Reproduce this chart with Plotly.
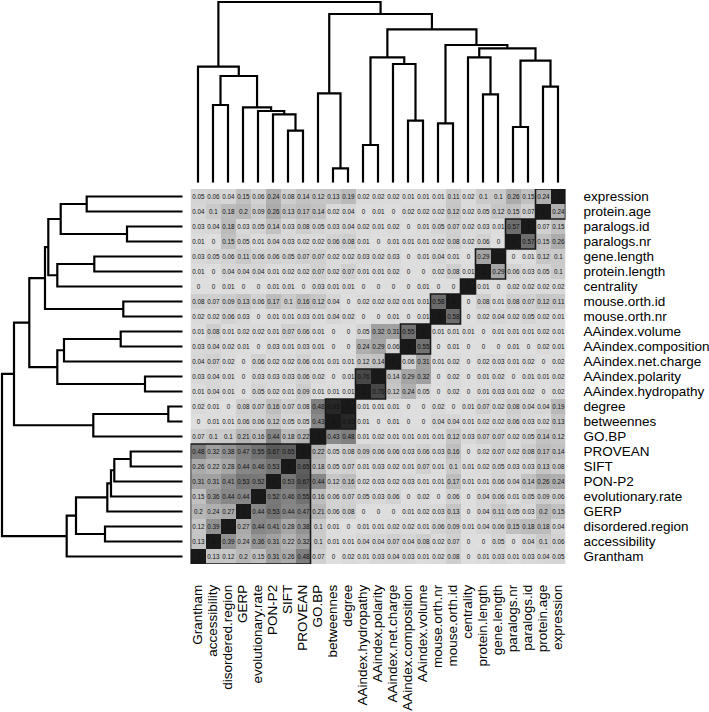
import plotly.graph_objects as go

# ---------------- data ----------------
labels = ["Grantham", "accessibility", "disordered.region", "GERP", "evolutionary.rate",
          "PON-P2", "SIFT", "PROVEAN", "GO.BP", "betweennes", "degree",
          "AAindex.hydropathy", "AAindex.polarity", "AAindex.net.charge",
          "AAindex.composition", "AAindex.volume", "mouse.orth.nr", "mouse.orth.id",
          "centrality", "protein.length", "gene.length", "paralogs.nr", "paralogs.id",
          "protein.age", "expression"]

# correlation of each variable with the variables listed before it (lower triangle)
corr_accessibility = [0.13]
corr_disordered_region = [0.12, 0.39]
corr_GERP = [0.2, 0.24, 0.27]
corr_evolutionary_rate = [0.15, 0.36, 0.44, 0.44]
corr_PON_P2 = [0.31, 0.31, 0.41, 0.53, 0.52]
corr_SIFT = [0.26, 0.22, 0.28, 0.44, 0.46, 0.53]
corr_PROVEAN = [0.48, 0.32, 0.38, 0.47, 0.55, 0.67, 0.65]
corr_GO_BP = [0.07, 0.1, 0.1, 0.21, 0.16, 0.44, 0.18, 0.22]
corr_betweennes = [0, 0.01, 0.01, 0.06, 0.06, 0.12, 0.05, 0.05, 0.43]
corr_degree = [0.02, 0.01, 0, 0.08, 0.07, 0.16, 0.07, 0.08, 0.48, 0.93]
corr_hydropathy = [0.01, 0.04, 0.01, 0, 0.05, 0.02, 0.01, 0.09, 0.01, 0.01, 0.01]
corr_polarity = [0.03, 0.04, 0.01, 0, 0.03, 0.03, 0.03, 0.06, 0.02, 0, 0.01, 0.76]
corr_net_charge = [0.04, 0.07, 0.02, 0, 0.06, 0.02, 0.02, 0.06, 0.01, 0.01, 0.01, 0.12, 0.14]
corr_composition = [0.03, 0.04, 0.02, 0.01, 0, 0.03, 0.01, 0.03, 0.01, 0, 0, 0.24, 0.29, 0.06]
corr_volume = [0.01, 0.08, 0.01, 0.02, 0.02, 0.01, 0.07, 0.06, 0.01, 0, 0, 0.05, 0.32, 0.31, 0.55]
corr_mouse_orth_nr = [0.02, 0.02, 0.06, 0.03, 0, 0.01, 0.01, 0.03, 0.01, 0.04, 0.02, 0, 0, 0.01, 0, 0.01]
corr_mouse_orth_id = [0.08, 0.07, 0.09, 0.13, 0.06, 0.17, 0.1, 0.16, 0.12, 0.04, 0, 0.02, 0.02, 0.02,
                      0.01, 0.01, 0.58]
corr_centrality = [0, 0, 0.01, 0, 0, 0.01, 0.01, 0, 0.03, 0.01, 0.01, 0, 0, 0, 0, 0.01, 0, 0]
corr_protein_length = [0.01, 0, 0.04, 0.04, 0.04, 0.01, 0.02, 0.02, 0.07, 0.02, 0.07, 0.01, 0.01, 0.02,
                       0, 0, 0.02, 0.08, 0.01]
corr_gene_length = [0.03, 0.05, 0.06, 0.11, 0.06, 0.06, 0.05, 0.07, 0.07, 0.02, 0.02, 0.03, 0.02, 0.03,
                    0, 0.01, 0.04, 0.01, 0, 0.29]
corr_paralogs_nr = [0.01, 0, 0.15, 0.05, 0.01, 0.04, 0.03, 0.02, 0.02, 0.06, 0.08, 0.01, 0, 0.01, 0.01,
                    0.01, 0.02, 0.08, 0.02, 0.06, 0]
corr_paralogs_id = [0.03, 0.04, 0.18, 0.03, 0.05, 0.14, 0.03, 0.08, 0.05, 0.03, 0.04, 0.02, 0.01, 0.02,
                    0, 0.01, 0.05, 0.07, 0.02, 0.03, 0.01, 0.57]
corr_protein_age = [0.04, 0.1, 0.18, 0.2, 0.09, 0.26, 0.13, 0.17, 0.14, 0.02, 0.04, 0, 0.01, 0, 0.02,
                    0.02, 0.02, 0.12, 0.02, 0.05, 0.12, 0.15, 0.07]
corr_expression = [0.05, 0.06, 0.04, 0.15, 0.06, 0.24, 0.08, 0.14, 0.12, 0.13, 0.19, 0.02, 0.02, 0.02,
                   0.01, 0.01, 0.01, 0.11, 0.02, 0.1, 0.1, 0.26, 0.15, 0.24]

# dendrogram merges (hclust style: negative = leaf number, positive = earlier merge step)
merge_a = [-7, -6, -5, -4, -2, 5, -1, -10, -9, -12, -15, -14, 10, -17, -20, -19, -22, -24, 17, 16, 14, 13, 9, 7]
merge_b = [-8, 1, 2, 3, -3, 4, 6, -11, 8, -13, -16, 11, 12, -18, -21, 15, -23, -25, 18, 19, 20, 21, 22, 23]
merge_h = [52.0, 68.4, 71.7, 75.4, 77.7, 106.7, 116.0, 14.4, 89.4, 37.7, 62.0, 118.7, 125.4, 59.4,
           88.4, 125.4, 55.7, 96.0, 122.0, 134.4, 137.7, 153.4, 168.7, 180.7]

# clusters outlined on the diagonal (first and last variable index)
cluster_first = [0, 8, 9, 11, 13, 14, 16, 18, 19, 21, 23]
cluster_last = [7, 8, 10, 12, 13, 15, 17, 18, 20, 22, 24]

# ---------------- build matrix ----------------
lower = [[], corr_accessibility, corr_disordered_region, corr_GERP, corr_evolutionary_rate,
         corr_PON_P2, corr_SIFT, corr_PROVEAN, corr_GO_BP, corr_betweennes, corr_degree,
         corr_hydropathy, corr_polarity, corr_net_charge, corr_composition, corr_volume,
         corr_mouse_orth_nr, corr_mouse_orth_id, corr_centrality, corr_protein_length,
         corr_gene_length, corr_paralogs_nr, corr_paralogs_id, corr_protein_age, corr_expression]
n = len(labels)
M = [[1.0] * n for _ in range(n)]
for i in range(n):
    for j, v in enumerate(lower[i]):
        M[i][j] = v
        M[j][i] = v

# displayed rows: top row = last variable
z = [M[n - 1 - r] for r in range(n)]
txt = [["{:g}".format(v) for v in row] for row in z]

W, H = 709, 712
hx0, hx1 = 190.5, 565.5
hy0, hy1 = 189.0, 564.0
dend_gap = 182.7

fig = go.Figure()
fig.add_trace(go.Heatmap(
    z=z, x=list(range(n)), y=list(range(n)), text=txt, texttemplate="%{text}",
    textfont=dict(size=6.3, color="#111111", family="Liberation Sans, Arial"),
    colorscale=[[0, "rgb(222,222,222)"], [1, "rgb(25,25,25)"]],
    zmin=0, zmax=1, showscale=False, hoverinfo="skip",
    xaxis="x", yaxis="y"))

# ---------------- dendrogram geometry ----------------
node_pos = {}
node_h = {}


def pos_of(k):
    if k < 0:
        return float(-k - 1), 0.0
    return node_pos[k], node_h[k]


seg_p, seg_h = [], []
for s in range(len(merge_a)):
    pa, ha = pos_of(merge_a[s])
    pb, hb = pos_of(merge_b[s])
    h = merge_h[s]
    seg_p += [pa, pa, pb, pb, None]
    seg_h += [ha, h, h, hb, None]
    node_pos[s + 1] = (pa + pb) / 2
    node_h[s + 1] = h

line_style = dict(color="black", width=2.2)
fig.add_trace(go.Scatter(x=seg_p, y=seg_h, mode="lines", line=line_style,
                         xaxis="x2", yaxis="y2", hoverinfo="skip", showlegend=False))
rows_p = [None if p is None else (n - 1 - p) for p in seg_p]
fig.add_trace(go.Scatter(x=seg_h, y=rows_p, mode="lines", line=line_style,
                         xaxis="x3", yaxis="y3", hoverinfo="skip", showlegend=False))

# ---------------- cluster boxes ----------------
shapes = []
for a, b in zip(cluster_first, cluster_last):
    shapes.append(dict(type="rect", xref="x", yref="y",
                       x0=a - 0.5, x1=b + 0.5,
                       y0=(n - 1 - b) - 0.5, y1=(n - 1 - a) + 0.5,
                       line=dict(color="#1a1a1a", width=1.6), fillcolor="rgba(0,0,0,0)"))

lab_font = dict(family="Liberation Sans, Arial", size=13.5, color="black")
fig.update_layout(
    width=W, height=H, margin=dict(l=0, r=0, t=0, b=0),
    paper_bgcolor="white", plot_bgcolor="white", showlegend=False,
    shapes=shapes,
    xaxis=dict(domain=[hx0 / W, hx1 / W], range=[-0.5, n - 0.5], tickmode="array",
               tickvals=list(range(n)), ticktext=labels, tickangle=-90, ticks="",
               ticklabelstandoff=17, tickfont=lab_font, showgrid=False, zeroline=False,
               showline=False, automargin=False, fixedrange=True),
    yaxis=dict(domain=[1 - hy1 / H, 1 - hy0 / H], range=[n - 0.5, -0.5], side="right",
               tickmode="array", tickvals=list(range(n)),
               ticktext=[labels[n - 1 - r] for r in range(n)], ticks="",
               ticklabelstandoff=17, tickfont=lab_font, showgrid=False, zeroline=False,
               showline=False, automargin=False, fixedrange=True),
    xaxis2=dict(domain=[hx0 / W, hx1 / W], range=[-0.5, n - 0.5], visible=False,
                anchor="y2", fixedrange=True),
    yaxis2=dict(domain=[1 - dend_gap / H, 1], range=[0, dend_gap], visible=False,
                anchor="x2", fixedrange=True),
    xaxis3=dict(domain=[0, dend_gap / W], range=[dend_gap, 0], visible=False,
                anchor="y3", fixedrange=True),
    yaxis3=dict(domain=[1 - hy1 / H, 1 - hy0 / H], range=[n - 0.5, -0.5], visible=False,
                anchor="x3", fixedrange=True),
)

fig.write_html("out.html", config={"displayModeBar": False},
               post_script="document.body.style.margin='0';document.body.style.overflow='hidden';")
